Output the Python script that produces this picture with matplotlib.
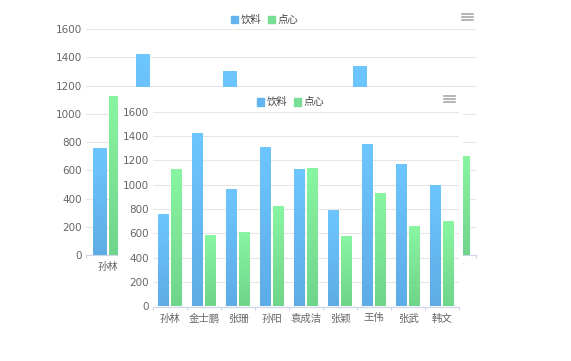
import matplotlib
matplotlib.use('Agg')
import matplotlib.pyplot as plt
import numpy as np
from matplotlib.colors import LinearSegmentedColormap
from matplotlib.patches import Rectangle
from matplotlib.lines import Line2D

plt.rcParams['font.family'] = ['DejaVu Sans', 'Noto Sans CJK SC']

# Data
names = ['孙林', '金士鹏', '张珊', '孙阳', '袁成洁', '张颖', '王伟', '张武', '韩文']
drinks = [750, 1420, 960, 1300, 1120, 785, 1330, 1160, 990]
snacks = [1120, 575, 600, 820, 1130, 570, 920, 650, 695]
series_names = ['饮料', '点心']
y_ticks = [0, 200, 400, 600, 800, 1000, 1200, 1400, 1600]

W, H = 571, 361
fig = plt.figure(figsize=(W / 100, H / 100), dpi=100)

BLUE = ('#6ec6fe', '#5eace6')     # top, bottom
GREEN = ('#89f5a2', '#6fd58a')
GRID = '#e6e6e6'
AXIS = '#ccd6eb'
LABEL = '#666666'


# pixel box (top-left origin) -> figure rect
def px_rect(x0, y0, x1, y1):
    return [x0 / W, 1 - y1 / H, (x1 - x0) / W, (y1 - y0) / H]


def fx(x):
    return x / W


def fy(y):
    return 1 - y / H


# Fill bars with a vertical gradient
def gradient_bars(ax, bars, colors):
    cmap = LinearSegmentedColormap.from_list('g', [colors[1], colors[0]])
    grad = np.linspace(0, 1, 64).reshape(-1, 1)
    for b in bars:
        x, w, h = b.get_x(), b.get_width(), b.get_height()
        ax.imshow(grad, extent=[x, x + w, 0, h], origin='lower', cmap=cmap,
                  aspect='auto', zorder=2, interpolation='bilinear')
        b.set_visible(False)


# Legend and menu icon drawn in figure pixel coords
def legend_menu(x_start, y_mid, menu_x, menu_y, z):
    x = x_start
    for name, col in zip(series_names, ['#62b3ef', '#79df94']):
        fig.add_artist(Rectangle((fx(x), fy(y_mid + 3.5)), 7 / W, 7 / H,
                                 transform=fig.transFigure, color=col, zorder=z))
        fig.text(fx(x + 10), fy(y_mid), name, fontsize=7.5, color='#444444',
                 va='center', ha='left', zorder=z)
        x += 37
    for k in range(3):
        yy = fy(menu_y + 3.2 * k)
        fig.add_artist(Line2D([fx(menu_x), fx(menu_x + 11)], [yy, yy],
                              transform=fig.transFigure, color='#a0a0a0', lw=1.1, zorder=z))


def draw_chart(rect, z):
    ax = fig.add_axes(rect, zorder=z)
    ax.set_facecolor('none')
    idx = np.arange(len(names))
    b1 = ax.bar(idx - 0.19, drinks, width=0.31)
    b2 = ax.bar(idx + 0.19, snacks, width=0.31)
    gradient_bars(ax, b1, BLUE)
    gradient_bars(ax, b2, GREEN)
    ax.set_xlim(-0.5, len(names) - 0.5)
    ax.set_ylim(0, 1600)
    ax.set_yticks(y_ticks)
    ax.set_xticks(idx)
    ax.set_xticklabels(names)
    ax.set_xticks(np.arange(len(names) + 1) - 0.5, minor=True)
    ax.yaxis.grid(True, color=GRID, lw=0.8)
    ax.set_axisbelow(True)
    for s in ['top', 'right', 'left']:
        ax.spines[s].set_visible(False)
    ax.spines['bottom'].set_color(AXIS)
    ax.spines['bottom'].set_linewidth(0.8)
    ax.tick_params(axis='y', length=0, labelsize=7.5, labelcolor=LABEL, pad=3)
    ax.tick_params(axis='x', which='major', length=0, labelsize=7.5, labelcolor=LABEL, pad=5)
    ax.tick_params(axis='x', which='minor', length=2.5, color=AXIS, width=0.8)
    return ax


# back chart
back = draw_chart(px_rect(86, 29, 476, 255.3), 1)
# labels hidden under the front chart anyway
for lbl in back.get_xticklabels()[1:-1]:
    lbl.set_visible(False)
legend_menu(231, 19.5, 461.5, 14, 1.5)

# white box covering part of the back chart
box = fig.add_axes(px_rect(118, 86.5, 462.5, 361), zorder=2)
box.set_facecolor('white')
box.set_axis_off()
box.add_patch(Rectangle((0, 0), 1, 1, transform=box.transAxes, color='white'))

# front chart
draw_chart(px_rect(153, 111.7, 459, 306.5), 3)
legend_menu(257, 102, 444, 96, 3.5)

fig.savefig('out.png', dpi=100)
